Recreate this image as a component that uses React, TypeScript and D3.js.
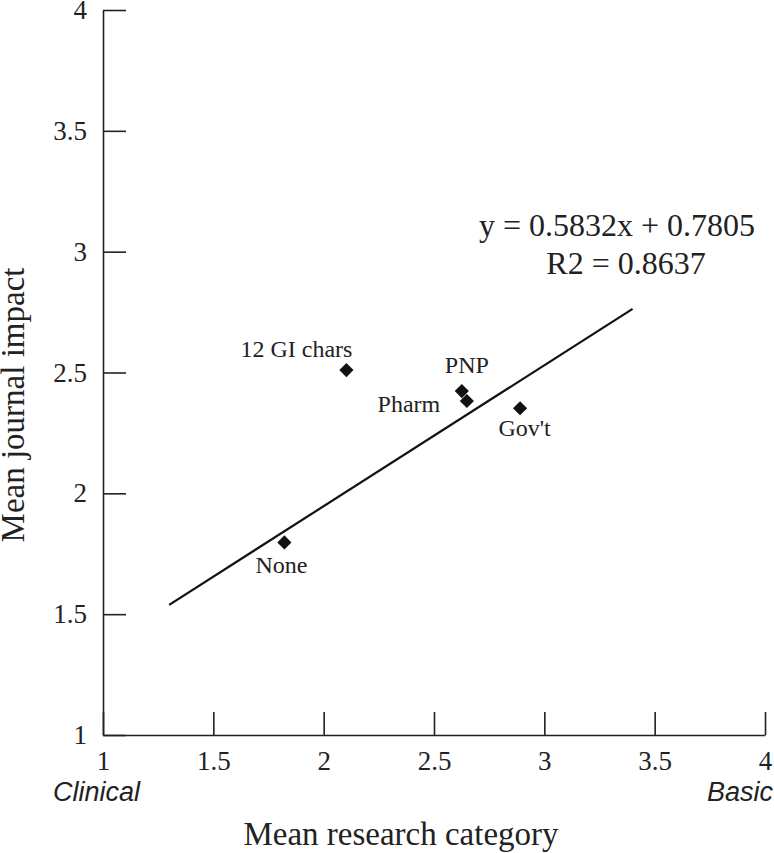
import React, { useEffect, useRef } from "react";
import * as d3 from "d3";

// group names and their mean scores
const groups = ["12 GI chars", "PNP", "Pharm", "Gov't", "None"];
const researchCategory = [2.103, 2.626, 2.649, 2.89, 1.822];
const journalImpact = [2.51, 2.423, 2.382, 2.352, 1.797];

// fitted trend line
const slope = 0.5832;
const intercept = 0.7805;
const rSquared = 0.8637;
const fitRange = [1.3, 3.4];

const tickValues = [1, 1.5, 2, 2.5, 3, 3.5, 4];

const serif = "'Liberation Serif', 'Times New Roman', serif";
const sans = "'Liberation Sans', Arial, sans-serif";

// where each label sits relative to its marker
const labelOffset: Record<string, [number, number]> = {
    "12 GI chars": [-50, -13],
    "PNP": [5, -18],
    "Pharm": [-58, 11],
    "Gov't": [4.5, 28],
    "None": [-3, 31],
};

export default function App() {
    const ref = useRef<SVGSVGElement>(null);

    useEffect(() => {
        const width = 774;
        const height = 853;
        const svg = d3.select(ref.current);
        svg.selectAll("*").remove();

        const x = d3.scaleLinear().domain([1, 4]).range([103, 765]);
        const y = d3.scaleLinear().domain([1, 4]).range([735, 10]);

        const data = groups.map((g, i) => ({
            name: g,
            x: researchCategory[i],
            y: journalImpact[i],
        }));

        // axes
        const xAxis = svg.append("g")
            .attr("transform", `translate(0,${y(1)})`)
            .call(d3.axisBottom(x).tickValues(tickValues).tickFormat(d3.format("")).tickSizeInner(-23).tickSizeOuter(0).tickPadding(16));
        const yAxis = svg.append("g")
            .attr("transform", `translate(${x(1)},0)`)
            .call(d3.axisLeft(y).tickValues(tickValues).tickFormat(d3.format("")).tickSizeInner(-23).tickSizeOuter(0).tickPadding(16));

        [xAxis, yAxis].forEach(ax => {
            ax.select(".domain").attr("stroke", "#222").attr("stroke-width", 1.6);
            ax.selectAll(".tick line").attr("stroke", "#222").attr("stroke-width", 1.6);
            ax.selectAll(".tick text")
                .attr("font-family", serif)
                .attr("font-size", 27)
                .attr("fill", "#222");
        });

        // regression line
        const line = d3.line<number>()
            .x(d => x(d))
            .y(d => y(slope * d + intercept));
        svg.append("path")
            .datum(fitRange)
            .attr("d", line)
            .attr("fill", "none")
            .attr("stroke", "#111")
            .attr("stroke-width", 2.2);

        // markers
        const diamond = d3.symbol().type(d3.symbolSquare).size(100);
        svg.selectAll(".pt")
            .data(data)
            .join("path")
            .attr("class", "pt")
            .attr("d", diamond)
            .attr("transform", d => `translate(${x(d.x)},${y(d.y)}) rotate(45)`)
            .attr("fill", "#111");

        svg.selectAll(".lbl")
            .data(data)
            .join("text")
            .attr("class", "lbl")
            .attr("x", d => x(d.x) + labelOffset[d.name][0])
            .attr("y", d => y(d.y) + labelOffset[d.name][1])
            .attr("text-anchor", "middle")
            .attr("font-family", serif)
            .attr("font-size", 24)
            .attr("fill", "#222")
            .text(d => d.name);

        // equation
        svg.append("text")
            .attr("x", 617).attr("y", 236)
            .attr("text-anchor", "middle")
            .attr("font-family", serif).attr("font-size", 32).attr("fill", "#222")
            .text(`y = ${slope}x + ${intercept}`);
        svg.append("text")
            .attr("x", 626).attr("y", 274)
            .attr("text-anchor", "middle")
            .attr("font-family", serif).attr("font-size", 32).attr("fill", "#222")
            .text(`R2 = ${rSquared}`);

        // axis titles
        svg.append("text")
            .attr("x", 401).attr("y", 845)
            .attr("text-anchor", "middle")
            .attr("font-family", serif).attr("font-size", 33).attr("fill", "#222")
            .text("Mean research category");
        svg.append("text")
            .attr("transform", "translate(24,405) rotate(-90)")
            .attr("text-anchor", "middle")
            .attr("font-family", serif).attr("font-size", 33).attr("fill", "#222")
            .text("Mean journal impact");

        svg.append("text")
            .attr("x", 53).attr("y", 801)
            .attr("font-family", sans).attr("font-style", "italic").attr("font-size", 27).attr("fill", "#222")
            .text("Clinical");
        svg.append("text")
            .attr("x", 773).attr("y", 801)
            .attr("text-anchor", "end")
            .attr("font-family", sans).attr("font-style", "italic").attr("font-size", 27).attr("fill", "#222")
            .text("Basic");

        svg.attr("width", width).attr("height", height);
    }, []);

    return (
        <div style={{ position: "absolute", left: 0, top: 0, background: "#fff" }}>
            <svg ref={ref} width={774} height={853}></svg>
        </div>
    );
}
